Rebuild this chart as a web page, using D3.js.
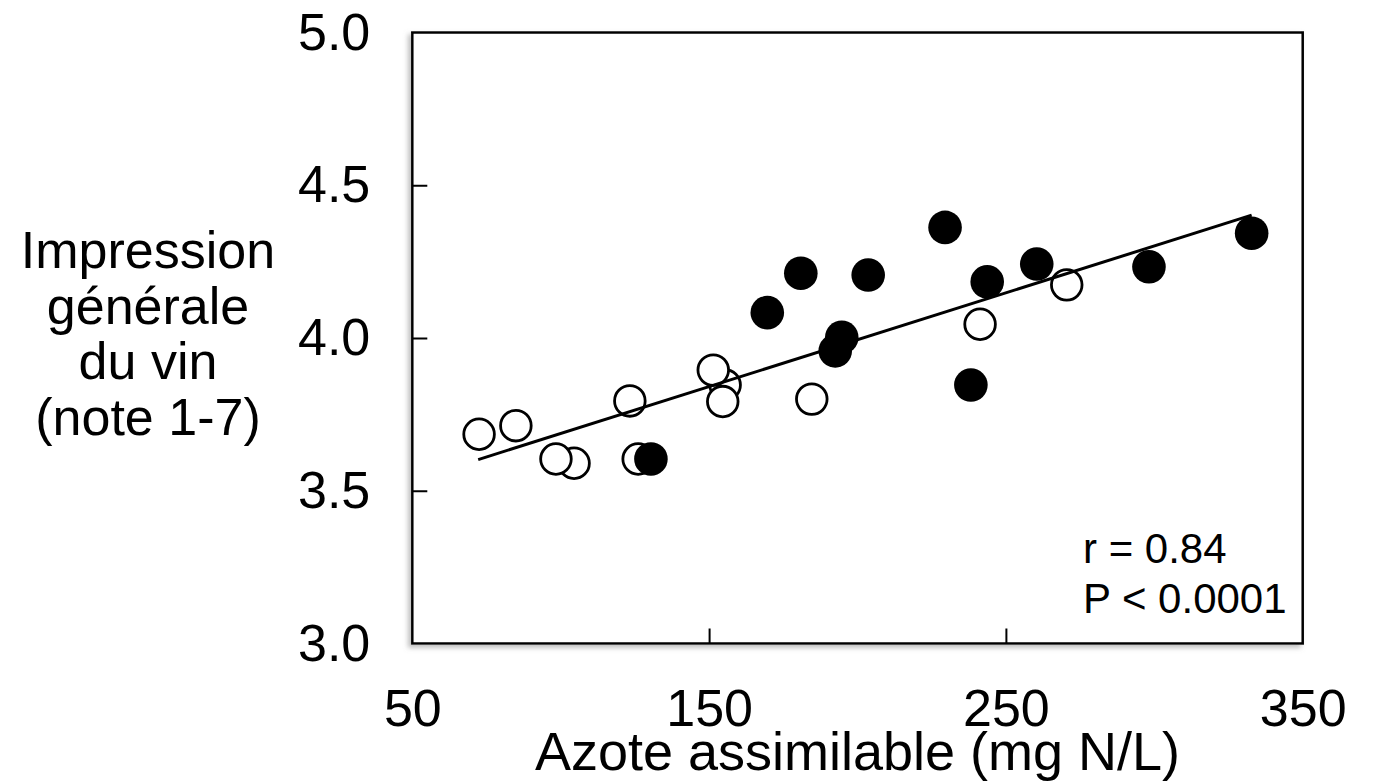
<!DOCTYPE html>
<html>
<head>
<meta charset="utf-8">
<script src="https://cdn.jsdelivr.net/npm/d3@7"></script>
<style>
  body { margin: 0; background: #fff; }
  text { font-family: "Liberation Sans", Arial, sans-serif; fill: #000; }
</style>
</head>
<body>
<div id="chart"></div>
<script>
// open circles (azote, note) - listed in drawing order
var openPts = [
  [72.5, 3.685], [84.9, 3.713], [104.5, 3.590], [98.4, 3.604],
  [123.3, 3.794], [126.1, 3.604], [155.4, 3.846], [151.4, 3.895],
  [154.6, 3.792], [184.6, 3.800], [241.3, 4.045], [270.5, 4.174]
];
// filled circles
var filledPts = [
  [130.4, 3.604], [169.6, 4.083], [180.9, 4.212], [194.7, 4.002],
  [192.5, 3.958], [203.6, 4.206], [229.5, 4.362], [238.2, 3.846],
  [243.7, 4.184], [260.4, 4.242], [298.2, 4.233], [332.8, 4.343]
];
// regression line end points
var trendLine = [[72.2, 3.602], [332.8, 4.402]];
var xTicks = [50, 150, 250, 350];
var yTicks = [3.0, 3.5, 4.0, 4.5, 5.0];
var yLabelLines = ["Impression", "générale", "du vin", "(note 1-7)"];
var statLines = ["r = 0.84", "P < 0.0001"];

var W = 1376, H = 783;
var margin = {top: 32.5, right: 73.3, bottom: 139.5, left: 412.3},
    width = W - margin.left - margin.right,
    height = H - margin.top - margin.bottom;

var xScale = d3.scaleLinear().domain([50, 350]).range([0, width]),
    yScale = d3.scaleLinear().domain([3, 5]).range([height, 0]);

var svg = d3.select("#chart").append("svg")
    .attr("width", W)
    .attr("height", H);

var defs = svg.append("defs");
var shadow = defs.append("filter")
    .attr("id", "shadow")
    .attr("x", "-5%").attr("y", "-5%")
    .attr("width", "110%").attr("height", "110%");
shadow.append("feDropShadow")
    .attr("dx", -3).attr("dy", 3)
    .attr("stdDeviation", 2.5)
    .attr("flood-color", "#888")
    .attr("flood-opacity", 0.55);

var g = svg.append("g")
    .attr("transform", "translate(" + margin.left + "," + margin.top + ")");

// frame
g.append("rect")
    .attr("width", width)
    .attr("height", height)
    .attr("fill", "#fff")
    .attr("stroke", "#000")
    .attr("stroke-width", 2.5)
    .attr("filter", "url(#shadow)");

// axes, ticks pointing inward
var xAxis = d3.axisBottom(xScale)
    .tickValues(xTicks)
    .tickSize(-15)
    .tickPadding(46)
    .tickFormat(d3.format("d"));
var yAxis = d3.axisLeft(yScale)
    .tickValues(yTicks)
    .tickSize(-15)
    .tickPadding(42)
    .tickFormat(d3.format(".1f"));

var gx = g.append("g")
    .attr("transform", "translate(0," + height + ")")
    .call(xAxis);
var gy = g.append("g").call(yAxis);

[gx, gy].forEach(function (ax) {
  ax.select(".domain").remove();
  ax.selectAll(".tick line").attr("stroke", "#000").attr("stroke-width", 2);
  ax.selectAll(".tick text")
    .attr("font-size", 52)
    .attr("font-family", "Liberation Sans, Arial, sans-serif")
    .attr("fill", "#000");
});
// no tick marks where they overlap the frame
gx.selectAll(".tick line").filter(function (d) { return d === 50 || d === 350; }).remove();
gy.selectAll(".tick line").filter(function (d) { return d === 3 || d === 5; }).remove();

// points
g.append("g").selectAll("circle")
    .data(openPts)
  .enter().append("circle")
    .attr("cx", function (d) { return xScale(d[0]); })
    .attr("cy", function (d) { return yScale(d[1]); })
    .attr("r", 15.3)
    .attr("fill", "#fff")
    .attr("stroke", "#000")
    .attr("stroke-width", 2.8);

g.append("g").selectAll("circle")
    .data(filledPts)
  .enter().append("circle")
    .attr("cx", function (d) { return xScale(d[0]); })
    .attr("cy", function (d) { return yScale(d[1]); })
    .attr("r", 16.8)
    .attr("fill", "#000");

// regression line
var line = d3.line()
    .x(function (d) { return xScale(d[0]); })
    .y(function (d) { return yScale(d[1]); });
g.append("path")
    .attr("d", line(trendLine))
    .attr("fill", "none")
    .attr("stroke", "#000")
    .attr("stroke-width", 3);

// statistics
g.append("g").selectAll("text")
    .data(statLines)
  .enter().append("text")
    .attr("x", 1083 - margin.left)
    .attr("y", function (d, i) { return 563 - margin.top + i * 50; })
    .attr("font-size", 42)
    .text(function (d) { return d; });

// axis titles
svg.append("text")
    .attr("x", margin.left + width / 2)
    .attr("y", 770)
    .attr("text-anchor", "middle")
    .attr("font-size", 54)
    .text("Azote assimilable (mg N/L)");

svg.append("g").selectAll("text")
    .data(yLabelLines)
  .enter().append("text")
    .attr("x", 148)
    .attr("y", function (d, i) { return 268 + i * 55.5; })
    .attr("text-anchor", "middle")
    .attr("font-size", 52)
    .text(function (d) { return d; });
</script>
</body>
</html>
